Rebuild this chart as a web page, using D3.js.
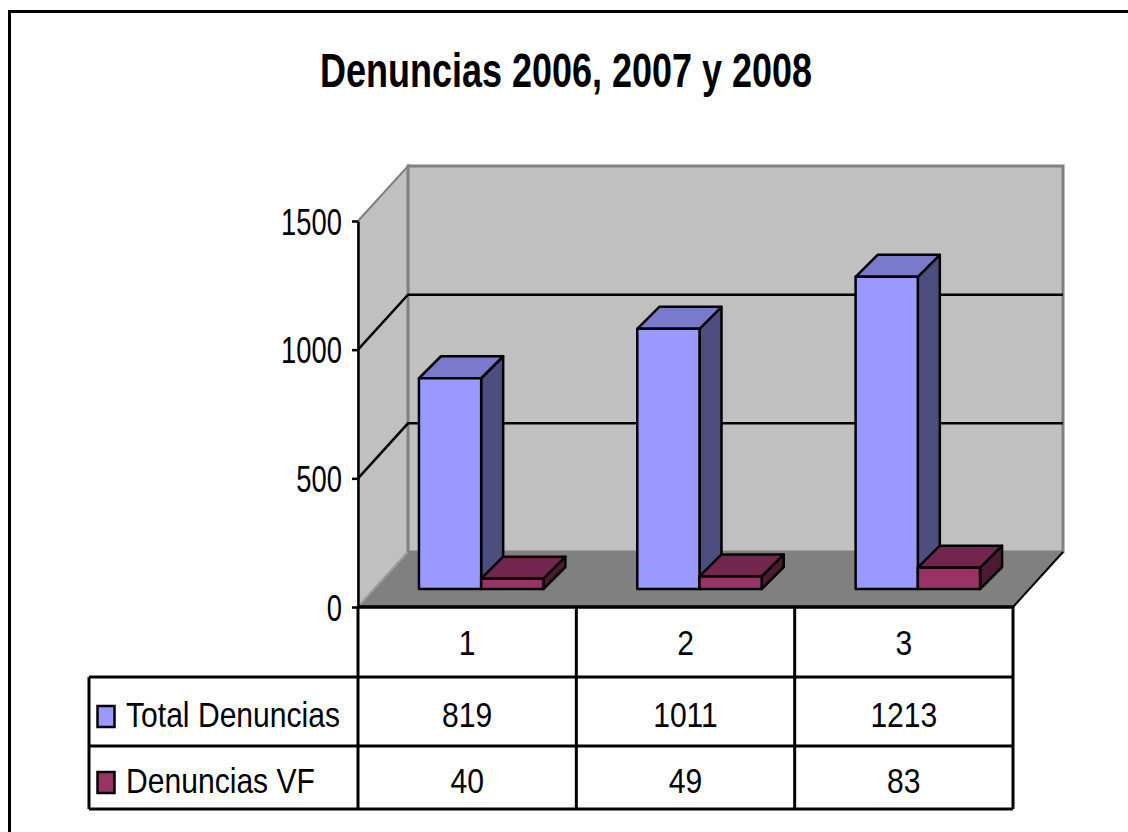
<!DOCTYPE html>
<html>
<head>
<meta charset="utf-8">
<script src="https://cdn.jsdelivr.net/npm/d3@7"></script>
<style>
  body { margin: 0; background: #fff; }
  text { font-family: "Liberation Sans", Arial, sans-serif; fill: #000; }
</style>
</head>
<body>
<script>
// data
var categories = ["1", "2", "3"];
var seriesNames = ["Total Denuncias", "Denuncias VF"];
var totalDenuncias = [819, 1011, 1213];
var denunciasVF = [40, 49, 83];
var yTicks = [0, 500, 1000, 1500];
var title = "Denuncias 2006, 2007 y 2008";

var seriesValues = [totalDenuncias, denunciasVF];
var front = ["#9999ff", "#993366"],
    top_ = ["#7a7acc", "#73264d"],
    side = ["#4d4d80", "#4d1a33"];

var W = 1128, H = 832;
var left = 358, right = 1013;
var depth = {x: 50, y: -55};      // floor / wall depth
var barOff = {x: 14, y: -18};     // bars sit a bit inside the floor
var barDepth = 22;
var rows = [607, 677, 746, 809];  // table row lines
var tableLeft = 89;

var svg = d3.select("body").append("svg")
    .attr("width", W)
    .attr("height", H);

// outer frame (cut off at right and bottom like the source)
svg.append("rect")
    .attr("x", 9.5).attr("y", 11.5)
    .attr("width", 1200).attr("height", 900)
    .style("fill", "none").style("stroke", "#000").style("stroke-width", 3);

// title
svg.append("text")
    .attr("transform", "translate(566,87) scale(0.75,1)")
    .attr("text-anchor", "middle")
    .style("font-size", "48px").style("font-weight", "bold")
    .text(title);

var y = d3.scaleLinear().domain([0, 1500]).range([607, 221]);
var x = d3.scaleBand().domain(categories).range([left, right])
    .paddingInner(0.43).paddingOuter(0.215);
var xs = d3.scaleBand().domain(seriesNames).range([0, x.bandwidth()]);
var step = x.step();

var y0 = y(0), yTop = y(1500);

// side wall
svg.append("path")
    .attr("d", "M" + left + "," + y0 + "L" + left + "," + yTop +
        "L" + (left + depth.x) + "," + (yTop + depth.y) +
        "L" + (left + depth.x) + "," + (y0 + depth.y) + "Z")
    .style("fill", "#c0c0c0").style("stroke", "#808080").style("stroke-width", 2);

// back wall
svg.append("rect")
    .attr("x", left + depth.x).attr("y", yTop + depth.y)
    .attr("width", right - left).attr("height", y0 - yTop)
    .style("fill", "#c0c0c0").style("stroke", "#808080").style("stroke-width", 3);

// floor
svg.append("path")
    .attr("d", "M" + left + "," + y0 + "L" + right + "," + y0 +
        "L" + (right + depth.x) + "," + (y0 + depth.y) +
        "L" + (left + depth.x) + "," + (y0 + depth.y) + "Z")
    .style("fill", "#808080").style("stroke", "none");
svg.append("line")
    .attr("x1", left).attr("y1", y0)
    .attr("x2", left + depth.x).attr("y2", y0 + depth.y)
    .style("stroke", "#a0a0a0").style("stroke-width", 1.5);
svg.append("line")
    .attr("x1", right).attr("y1", y0)
    .attr("x2", right + depth.x).attr("y2", y0 + depth.y)
    .style("stroke", "#000").style("stroke-width", 2);

// gridlines
svg.selectAll(".grid")
    .data(yTicks.filter(function(v) { return v > 0 && v < 1500; }))
    .enter().append("path")
    .attr("d", function(v) {
        return "M" + left + "," + y(v) + "L" + (left + depth.x) + "," + (y(v) + depth.y) +
            "L" + (right + depth.x) + "," + (y(v) + depth.y);
    })
    .style("fill", "none").style("stroke", "#000").style("stroke-width", 2.5);

// bars
var bars = [];
categories.forEach(function(c, i) {
    seriesNames.forEach(function(s, j) {
        bars.push({c: c, s: j, name: s, v: seriesValues[j][i]});
    });
});

var g = svg.selectAll(".bar").data(bars).enter().append("g")
    .style("stroke", "#000").style("stroke-width", 2.5).style("stroke-linejoin", "round");

function geo(d) {
    var x0 = x(d.c) + xs(seriesNames[d.s]) + barOff.x,
        w = xs.bandwidth(),
        yb = y(0) + barOff.y,
        yt = y(d.v) + barOff.y;
    return {x0: x0, w: w, yb: yb, yt: yt};
}

g.append("path")
    .attr("d", function(d) {
        var b = geo(d), k = barDepth;
        return "M" + (b.x0 + b.w) + "," + b.yt + "L" + (b.x0 + b.w + k) + "," + (b.yt - k) +
            "L" + (b.x0 + b.w + k) + "," + (b.yb - k) + "L" + (b.x0 + b.w) + "," + b.yb + "Z";
    })
    .style("fill", function(d) { return side[d.s]; });

g.append("path")
    .attr("d", function(d) {
        var b = geo(d), k = barDepth;
        return "M" + b.x0 + "," + b.yt + "L" + (b.x0 + b.w) + "," + b.yt +
            "L" + (b.x0 + b.w + k) + "," + (b.yt - k) + "L" + (b.x0 + k) + "," + (b.yt - k) + "Z";
    })
    .style("fill", function(d) { return top_[d.s]; });

g.append("rect")
    .attr("x", function(d) { return geo(d).x0; })
    .attr("y", function(d) { return geo(d).yt; })
    .attr("width", function(d) { return geo(d).w; })
    .attr("height", function(d) { var b = geo(d); return b.yb - b.yt; })
    .style("fill", function(d) { return front[d.s]; });

// y axis
var axis = svg.append("g")
    .attr("transform", "translate(" + left + ",0)")
    .call(d3.axisLeft(y).tickValues(yTicks).tickSize(6).tickSizeOuter(0).tickFormat(d3.format("d")));
axis.select(".domain").style("stroke", "#000").style("stroke-width", 2.5);
axis.selectAll(".tick line").style("stroke", "#000").style("stroke-width", 2.5);
axis.selectAll(".tick text")
    .attr("x", null).attr("dy", null)
    .attr("transform", "translate(-16,13) scale(0.74,1)")
    .style("font-size", "37px").style("font-family", "'Liberation Sans', Arial, sans-serif");

// data table
var tbl = svg.append("g").style("stroke", "#000");
tbl.append("line").attr("x1", left).attr("x2", right).attr("y1", rows[0]).attr("y2", rows[0])
    .style("stroke-width", 3.5);
rows.slice(1).forEach(function(r) {
    tbl.append("line").attr("x1", tableLeft).attr("x2", right).attr("y1", r).attr("y2", r)
        .style("stroke-width", 3);
});
tbl.append("line").attr("x1", tableLeft).attr("x2", tableLeft)
    .attr("y1", rows[1]).attr("y2", rows[3]).style("stroke-width", 3);
d3.range(categories.length + 1).forEach(function(i) {
    var cx = left + i * step;
    tbl.append("line").attr("x1", cx).attr("x2", cx)
        .attr("y1", rows[0]).attr("y2", rows[3]).style("stroke-width", 3);
});

function cell(txt, cx, cy, anchor) {
    svg.append("text")
        .attr("transform", "translate(" + cx + "," + cy + ") scale(0.86,1)")
        .attr("text-anchor", anchor)
        .style("font-size", "35px")
        .text(txt);
}

categories.forEach(function(c, i) {
    var cx = left + (i + 0.5) * step;
    cell(c, cx, (rows[0] + rows[1]) / 2 + 13, "middle");
    seriesValues.forEach(function(vals, j) {
        cell(vals[i], cx, (rows[j + 1] + rows[j + 2]) / 2 + 15, "middle");
    });
});

seriesNames.forEach(function(s, j) {
    var cy = (rows[j + 1] + rows[j + 2]) / 2;
    svg.append("rect")
        .attr("x", 97.5).attr("y", cy - 5.5)
        .attr("width", 17).attr("height", 21)
        .style("fill", front[j]).style("stroke", "#000").style("stroke-width", 2.5);
    cell(s, 126, cy + 15, "start");
});
</script>
</body>
</html>
